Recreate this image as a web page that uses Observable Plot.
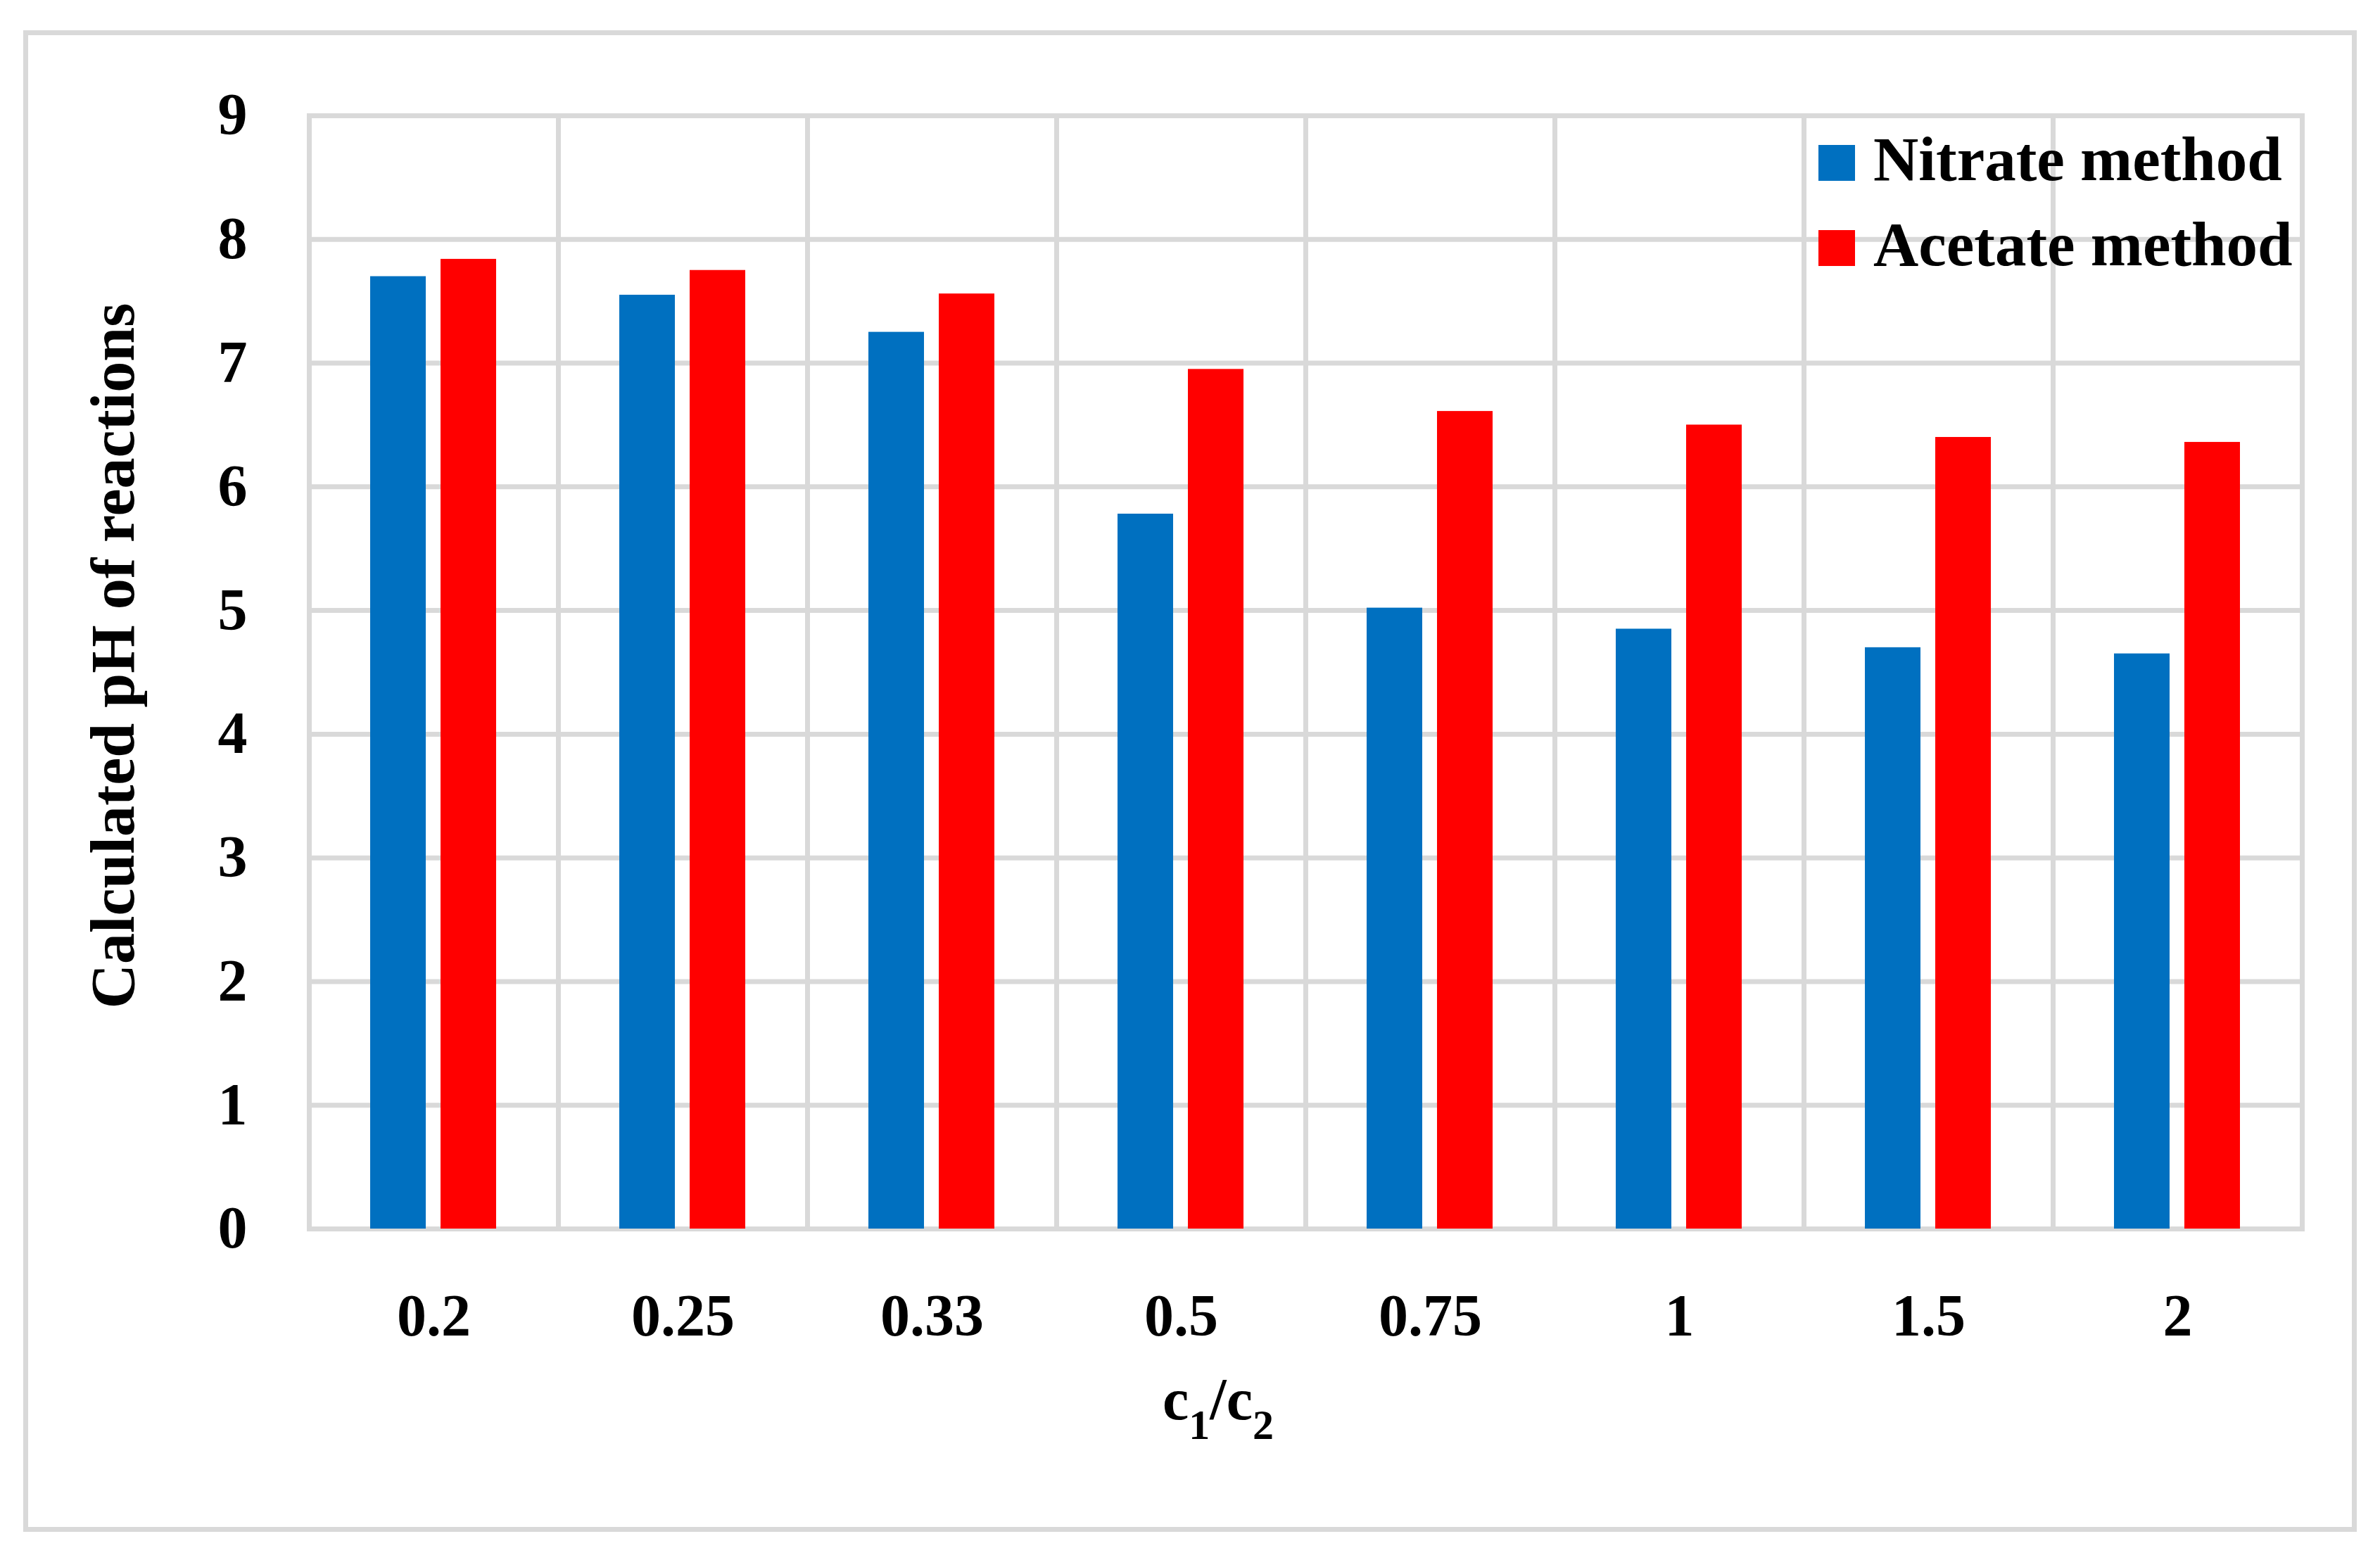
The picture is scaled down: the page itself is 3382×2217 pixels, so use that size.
<!DOCTYPE html>
<html><head><meta charset="utf-8">
<script src="https://cdn.jsdelivr.net/npm/d3@7"></script>
<script src="https://cdn.jsdelivr.net/npm/@observablehq/plot@0.6"></script>
<style>
html,body{margin:0;padding:0;background:#fff;}
#wrap{position:relative;width:3382px;height:2217px;overflow:hidden;}
#frame{position:absolute;left:33px;top:43px;width:3316px;height:2134px;border:7px solid #d9d9d9;box-sizing:border-box;}
#chart{position:absolute;left:0;top:0;}
</style></head><body>
<div id="wrap"><div id="frame"></div><div id="chart"></div></div>
<script>
const categories = ["0.2","0.25","0.33","0.5","0.75","1","1.5","2"];
const seriesNames = ["Nitrate method","Acetate method"];
const nitrate = [7.70,7.55,7.25,5.78,5.02,4.85,4.70,4.65];
const acetate = [7.84,7.75,7.56,6.95,6.61,6.50,6.40,6.36];
const colors = ["#0070C0","#FF0000"];
const yTicks = [0,1,2,3,4,5,6,7,8,9];
const yTitle = "Calculated pH of reactions";
const xTitleParts = [["c",false],["1",true],["/c",false],["2",true]];

const data = categories.flatMap((c,i)=>[
  {cat:c, series:seriesNames[0], value:nitrate[i]},
  {cat:c, series:seriesNames[1], value:acetate[i]}
]);

const grid = "#d9d9d9";
const font = "'Liberation Serif', 'Times New Roman', serif";
const plot = Plot.plot({
  width:3382, height:2217,
  marginLeft:437, marginRight:110, marginTop:164, marginBottom:471,
  style:{fontFamily:font, fontSize:"84px", fontWeight:"bold", color:"#000", background:"transparent"},
  fx:{domain:categories, padding:0, axis:"bottom", tickSize:0, tickPadding:92, label:null},
  x:{domain:seriesNames, axis:null, paddingInner:0.208, paddingOuter:0.861},
  y:{domain:[0,9], ticks:yTicks, tickSize:0, tickPadding:88, label:null},
  color:{domain:seriesNames, range:colors},
  marks:[
    Plot.ruleY(yTicks, {stroke:grid, strokeWidth:7}),
    Plot.frame({stroke:grid, strokeWidth:7}),
    Plot.barY(data, {fx:"cat", x:"series", y:"value", fill:"series"})
  ]
});
document.getElementById("chart").appendChild(plot);

const svg = d3.select(plot);
// y title
svg.append("text")
  .attr("transform","translate(190,932) rotate(-90)")
  .attr("text-anchor","middle")
  .style("font-family",font).style("font-weight","bold").style("font-size","88px")
  .attr("fill","#000")
  .text(yTitle);
// x title with subscripts
const xt = svg.append("text")
  .attr("x",1731).attr("y",2017)
  .attr("text-anchor","middle")
  .style("font-family",font).style("font-weight","bold").style("font-size","84px")
  .attr("fill","#000");
let prevSub = false;
xTitleParts.forEach(([t,sub])=>{
  const ts = xt.append("tspan").text(t);
  if (sub) { ts.attr("dy", 28).style("font-size","60px"); }
  else if (prevSub) { ts.attr("dy", -28); }
  prevSub = sub;
});
// legend
const lg = svg.append("g").attr("text-anchor","start");
seriesNames.forEach((s,i)=>{
  lg.append("rect").attr("x",2584).attr("y",206+121*i).attr("width",52).attr("height",51).attr("fill",colors[i]);
  lg.append("text").attr("x",2662).attr("y",256+121*i)
    .attr("text-anchor","start")
    .style("font-family",font).style("font-weight","bold").style("font-size","89px")
    .attr("fill","#000").text(s);
});
</script>
</body></html>
